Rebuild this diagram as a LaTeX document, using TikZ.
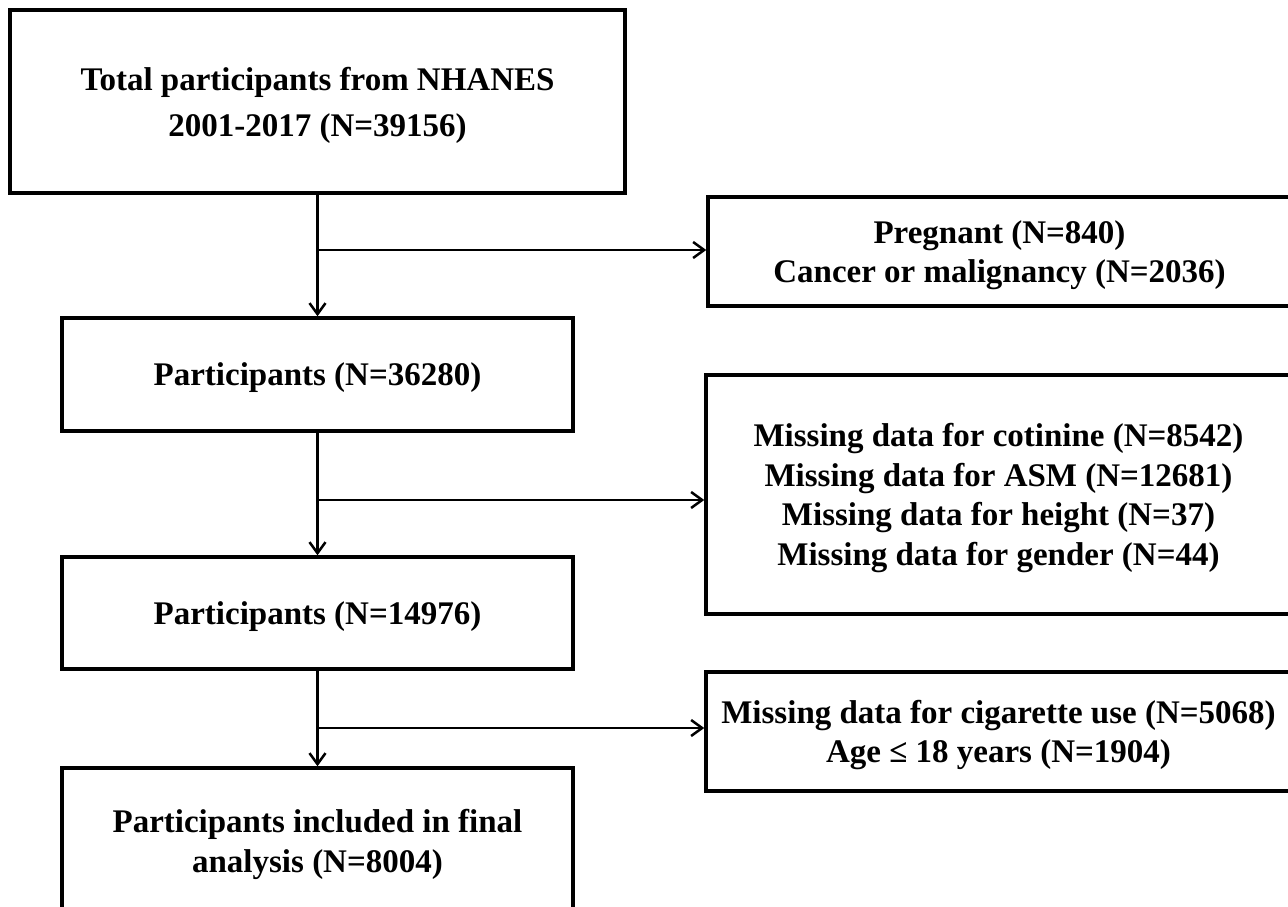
\documentclass[tikz,border=0pt]{standalone}
\usepackage{fontspec}
\setmainfont{Liberation Serif}
\usetikzlibrary{arrows.meta}

\tikzset{
  box/.style={draw, line width=3.5pt, align=center, inner sep=0pt, text depth=0pt,
    font=\bfseries\fontsize{33}{39.5}\selectfont},
  flow/.style={line width=2.2pt, -{Straight Barb[length=11pt,width=16pt,line width=2.5pt]}}
}

\begin{document}
\begin{tikzpicture}[x=1pt,y=-1pt]
\useasboundingbox (0,0) rectangle (1288,907);
\clip (0,0) rectangle (1288,907);

% main column
\node[box, minimum width=615, minimum height=183, font=\bfseries\fontsize{33}{46}\selectfont]
  (total) at (317.5,101.5) {Total participants from NHANES\\2001-2017 (N=39156)};
\node[box, minimum width=511, minimum height=113] (part1) at (317.5,374.5) {Participants (N=36280)};
\node[box, minimum width=511, minimum height=112] (part2) at (317.5,613) {Participants (N=14976)};
\node[box, minimum width=511, minimum height=146] (final) at (317.5,841)
  {Participants included in final\\analysis (N=8004)};

% exclusions
\node[box, minimum width=583, minimum height=109] (excl1) at (999.5,251.5)
  {Pregnant (N=840)\\Cancer or malignancy (N=2036)};
\node[box, minimum width=585, minimum height=239] (excl2) at (998.5,494.5)
  {Missing data for cotinine (N=8542)\\Missing data for ASM (N=12681)\\
   Missing data for height (N=37)\\Missing data for gender (N=44)};
\node[box, minimum width=585, minimum height=119] (excl3) at (998.5,731.5)
  {Missing data for cigarette use (N=5068)\\Age ≤ 18 years (N=1904)};

% branch points
\coordinate (j1) at (317.5,250);
\coordinate (j2) at (317.5,500);
\coordinate (j3) at (317.5,728);

\draw[flow] (total) -- (part1);
\draw[flow] (part1) -- (part2);
\draw[flow] (part2) -- (final);
\draw[flow] (j1) -- (j1 -| excl1.west);
\draw[flow] (j2) -- (j2 -| excl2.west);
\draw[flow] (j3) -- (j3 -| excl3.west);

\end{tikzpicture}
\end{document}
